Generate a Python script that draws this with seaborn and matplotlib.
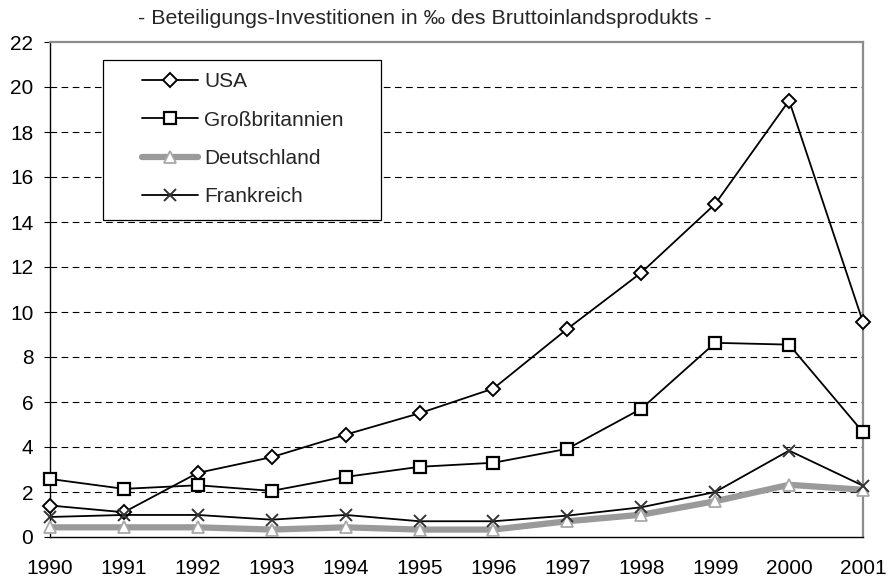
#!/usr/bin/env python3
"""Beteiligungs-Investitionen in Promille des BIP, 1990-2001."""

import matplotlib.pyplot as plt
import pandas as pd
import seaborn as sns
from matplotlib.patches import Rectangle


YEARS = list(range(1990, 2002))
USA = [1.4, 1.1, 2.85, 3.55, 4.55, 5.5, 6.6, 9.25, 11.75, 14.8, 19.4, 9.55]
GB = [2.58, 2.14, 2.3, 2.05, 2.67, 3.12, 3.3, 3.92, 5.7, 8.63, 8.55, 4.66]
DE = [0.43, 0.43, 0.43, 0.33, 0.43, 0.33, 0.33, 0.7, 0.99, 1.59, 2.32, 2.1]
FR = [0.89, 0.98, 0.98, 0.77, 0.98, 0.7, 0.7, 0.95, 1.32, 2.0, 3.84, 2.28]

TITLE = "- Beteiligungs-Investitionen in \u2030 des Bruttoinlandsprodukts -"

SERIES = [
    ("USA", USA, dict(color="black", lw=1.3, marker="D", ms=7.5, mfc="white", mec="black", mew=1.4)),
    ("Großbritannien", GB, dict(color="black", lw=1.3, marker="s", ms=9, mfc="white", mec="black", mew=1.6)),
    ("Deutschland", DE, dict(color="#9a9a9a", lw=4.5, marker="^", ms=9, mfc="white", mec="#a8a8a8", mew=1.3)),
    ("Frankreich", FR, dict(color="black", lw=1.3, marker="x", ms=9, mec="#333333", mew=1.4)),
]


def main():
    sns.set_style("white")
    plt.rcParams["font.family"] = ["Liberation Sans", "DejaVu Sans"]

    fig = plt.figure(figsize=(8.88, 5.8), dpi=100)
    ax = fig.add_axes([50 / 888, 1 - 537 / 580, 813 / 888, 495 / 580])

    for name, values, style in SERIES:
        df = pd.DataFrame({"Jahr": YEARS, "Wert": values})
        sns.lineplot(data=df, x="Jahr", y="Wert", ax=ax, label=name, clip_on=False, zorder=3, **style)

    ax.set_xlim(1990, 2001)
    ax.set_ylim(0, 22)
    ax.set_yticks(range(0, 23, 2))
    ax.set_xticks(YEARS)
    ax.tick_params(axis="both", labelsize=15, colors="black")
    ax.tick_params(axis="y", direction="out", length=4, width=0.8, left=True, pad=8)
    ax.tick_params(axis="x", length=0, pad=16)
    ax.set_xlabel(None)
    ax.set_ylabel(None)

    for y in range(2, 22, 2):
        ax.axhline(y, color="black", lw=0.8, ls=(0, (6, 4)), zorder=1)

    for side in ("left", "bottom"):
        ax.spines[side].set_color("black")
        ax.spines[side].set_linewidth(1.0)
    for side in ("top", "right"):
        ax.spines[side].set_color("#8c8c8c")
        ax.spines[side].set_linewidth(1.6)

    fig.text(425 / 888, 1 - 18 / 580, TITLE, ha="center", va="center", fontsize=15.4)

    # legend box drawn separately: the original has wide side padding
    box = Rectangle((0.0652, 0.640), 0.342, 0.323, transform=ax.transAxes,
                    facecolor="white", edgecolor="black", lw=0.9, zorder=4)
    ax.add_patch(box)
    leg = ax.legend(
        loc="upper left",
        bbox_to_anchor=(0.113, 0.939),
        frameon=False,
        fontsize=15,
        handlelength=2.7,
        handletextpad=0.29,
        labelspacing=0.93,
        borderpad=0,
        borderaxespad=0,
    )
    leg.set_zorder(5)

    fig.savefig("out.png", dpi=100)
    plt.close(fig)


if __name__ == "__main__":
    main()
